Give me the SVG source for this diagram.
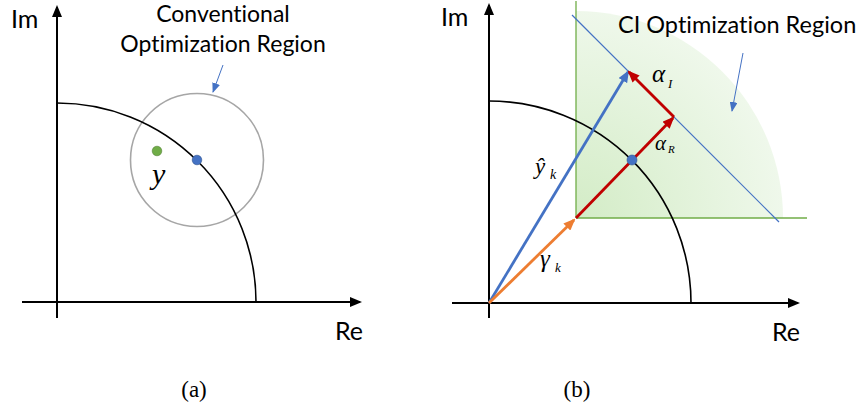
<svg xmlns="http://www.w3.org/2000/svg" width="861" height="410" viewBox="0 0 861 410">
<style>
.sans{font-family:Lato,"Liberation Sans",sans-serif;fill:#000;font-variant-ligatures:none}
.math{font-family:"Liberation Serif","DejaVu Serif",serif;font-style:italic;fill:#000}
.cap{font-family:"Liberation Serif",serif;font-size:23px;fill:#000}
.axis{stroke:#000;stroke-width:2;fill:none}
.arc{stroke:#000;stroke-width:1.6;fill:none}
</style>
<defs>
<marker id="ak" markerUnits="userSpaceOnUse" markerWidth="12" markerHeight="10" refX="10" refY="5" orient="auto"><path d="M0,0 L12,5 L0,10 z" fill="#000"/></marker>
<marker id="ab" markerUnits="userSpaceOnUse" markerWidth="12" markerHeight="10" refX="10" refY="5" orient="auto"><path d="M0,0 L12,5 L0,10 z" fill="#4472c4"/></marker>
<marker id="abs" markerUnits="userSpaceOnUse" markerWidth="10" markerHeight="8" refX="9" refY="4" orient="auto"><path d="M0,0 L10,4 L0,8 z" fill="#4472c4"/></marker>
<marker id="ao" markerUnits="userSpaceOnUse" markerWidth="12" markerHeight="10" refX="10" refY="5" orient="auto"><path d="M0,0 L12,5 L0,10 z" fill="#ed7d31"/></marker>
<marker id="ar" markerUnits="userSpaceOnUse" markerWidth="12" markerHeight="10" refX="10" refY="5" orient="auto"><path d="M0,0 L12,5 L0,10 z" fill="#c00000"/></marker>
<radialGradient id="gr" gradientUnits="userSpaceOnUse" cx="576" cy="218" r="207">
<stop offset="0" stop-color="#d3ecc6"/>
<stop offset="1" stop-color="#eff8eb"/>
</radialGradient>
</defs>

<g id="panel-a">
<g id="a-region"><circle cx="197" cy="160" r="66.5" fill="none" stroke="#a6a6a6" stroke-width="1.6"/></g>
<g id="a-arc"><path class="arc" d="M57,103 A199,199 0 0 1 256,302"/></g>
<g id="a-axes">
<line class="axis" x1="57" y1="318" x2="57" y2="7" marker-end="url(#ak)"/>
<line class="axis" x1="22" y1="302" x2="360" y2="302" marker-end="url(#ak)"/>
</g>
<g id="a-points">
<circle cx="157" cy="151" r="4.8" fill="#70ad47" stroke="#548235" stroke-width="0.6"/>
<circle cx="197" cy="160" r="4.8" fill="#4472c4" stroke="#2f528f" stroke-width="0.6"/>
</g>
<g id="a-labels">
<text class="sans" x="11" y="28" font-size="25">Im</text>
<text class="sans" x="335" y="340" font-size="25">Re</text>
<text class="sans" x="223" y="22" font-size="23" text-anchor="middle">Conventional</text>
<text class="sans" x="223" y="52" font-size="23" text-anchor="middle">Optimization Region</text>
<text class="math" x="152" y="184" font-size="30">y</text>
<text class="cap" x="194" y="397" text-anchor="middle">(a)</text>
</g>
</g>

<g id="panel-b">
<g id="b-region">
<path d="M576,218 L576,11 A207,207 0 0 1 783,218 Z" fill="url(#gr)"/>
<line x1="576" y1="1" x2="576" y2="218" stroke="#70ad47" stroke-width="1.3"/>
<line x1="576" y1="218" x2="807" y2="218" stroke="#70ad47" stroke-width="1.3"/>
</g>
<g id="b-arc"><path class="arc" d="M489,101 A202,202 0 0 1 691,303"/></g>
<g id="b-axes">
<line class="axis" x1="489" y1="318" x2="489" y2="5" marker-end="url(#ak)"/>
<line class="axis" x1="452" y1="303" x2="798" y2="303" marker-end="url(#ak)"/>
</g>
<g id="connectors">
<line x1="572" y1="15" x2="779" y2="222" stroke="#4472c4" stroke-width="1.2"/>
<line x1="489" y1="303" x2="628" y2="72" stroke="#4472c4" stroke-width="2.8" marker-end="url(#ab)"/>
<line x1="489" y1="303" x2="574" y2="220" stroke="#ed7d31" stroke-width="2.8" marker-end="url(#ao)"/>
<line x1="576" y1="218" x2="673" y2="118" stroke="#c00000" stroke-width="2.8" marker-end="url(#ar)"/>
<line x1="674" y1="117" x2="629" y2="72" stroke="#c00000" stroke-width="2.8" marker-end="url(#ar)"/>
<line x1="743" y1="53" x2="732" y2="111" stroke="#4472c4" stroke-width="1" marker-end="url(#abs)"/>
<line x1="223" y1="65" x2="213" y2="92" stroke="#4472c4" stroke-width="1" marker-end="url(#abs)"/>
</g>
<g id="b-point"><circle cx="632" cy="160" r="5" fill="#4472c4" stroke="#2f528f" stroke-width="0.6"/></g>
<g id="b-labels">
<text class="sans" x="441" y="26" font-size="25">Im</text>
<text class="sans" x="772" y="341" font-size="25">Re</text>
<text class="sans" x="618" y="33" font-size="23.5">CI Optimization Region</text>
<text class="math" x="535" y="174" font-size="23">ŷ</text>
<text class="math" x="550" y="179" font-size="14">k</text>
<text class="math" x="540" y="267" font-size="25">γ</text>
<text class="math" x="555" y="272" font-size="13">k</text>
<text class="math" x="652" y="82" font-size="25">α</text>
<text class="math" x="668" y="88" font-size="13">I</text>
<text class="math" x="655" y="150" font-size="21">α</text>
<text class="math" x="668" y="153" font-size="11">R</text>
<text class="cap" x="577" y="397" text-anchor="middle">(b)</text>
</g>
</g>
</svg>
